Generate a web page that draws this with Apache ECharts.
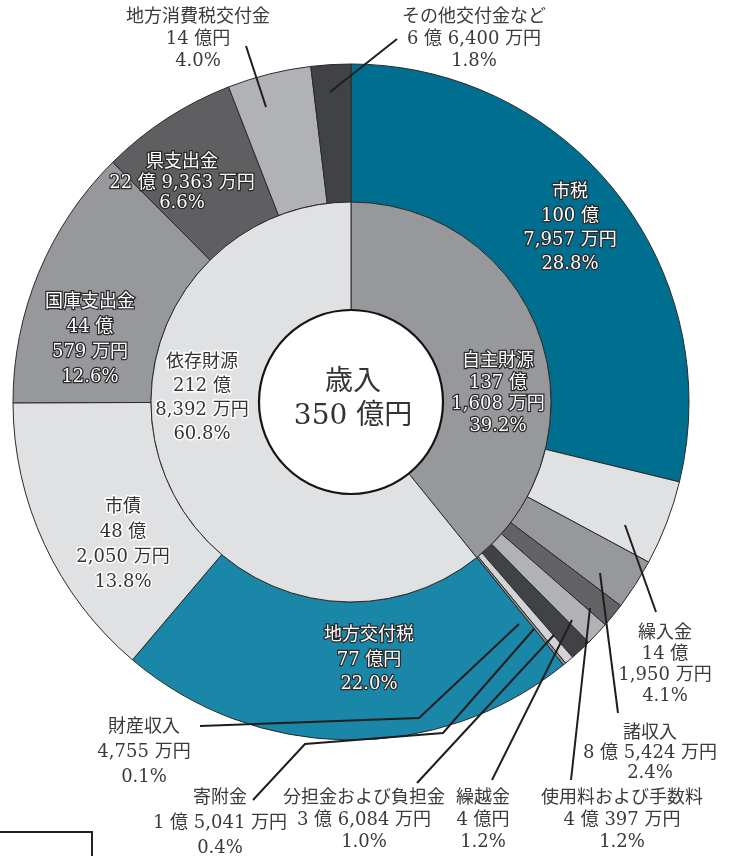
<!DOCTYPE html>
<html>
<head>
<meta charset="utf-8">
<title>歳入 350億円</title>
<script src="https://cdn.jsdelivr.net/npm/echarts/dist/echarts.min.js"></script>
<style>
    html, body { margin: 0; padding: 0; background: #fff; }
    #myChart { width: 732px; height: 856px; }
</style>
</head>
<body>
<div id="myChart"></div>
<script>
    /////////////////////////  データ（単位：億円）

    var ownNames   = ['市税', '繰入金', '諸収入', '使用料および手数料', '繰越金', '分担金および負担金', '寄附金', '財産収入'];
    var ownValues  = [100.7957, 14.1950, 8.5424, 4.0397, 4.0000, 3.6084, 1.5041, 0.4755];
    var ownAmounts = [['100 億', '7,957 万円'], ['14 億', '1,950 万円'], ['8 億 5,424 万円'], ['4 億 397 万円'],
                      ['4 億円'], ['3 億 6,084 万円'], ['1 億 5,041 万円'], ['4,755 万円']];
    var ownShares  = ['28.8%', '4.1%', '2.4%', '1.2%', '1.2%', '1.0%', '0.4%', '0.1%'];

    var depNames   = ['地方交付税', '市債', '国庫支出金', '県支出金', '地方消費税交付金', 'その他交付金など'];
    var depValues  = [77.0000, 48.2050, 44.0579, 22.9363, 14.0000, 6.6400];
    var depAmounts = [['77 億円'], ['48 億', '2,050 万円'], ['44 億', '579 万円'], ['22 億 9,363 万円'], ['14 億円'], ['6 億 6,400 万円']];
    var depShares  = ['22.0%', '13.8%', '12.6%', '6.6%', '4.0%', '1.8%'];

    var groupNames   = ['自主財源', '依存財源'];
    var groupValues  = [137.1608, 212.8392];
    var groupAmounts = [['137 億', '1,608 万円'], ['212 億', '8,392 万円']];
    var groupShares  = ['39.2%', '60.8%'];

    var totalName  = '歳入';
    var totalValue = 350;
    var totalText  = '350 億円';

    /////////////////////////  見た目

    var FONT = '"DejaVu Serif", "Noto Sans CJK JP", serif';
    var CENTER = [351, 402];

    var ownColors = ['#006e8e', '#e0e1e3', '#97989c', '#636366', '#b1b2b5', '#414245', '#d2d3d5', '#8c8d90'];
    var depColors = ['#1b87a8', '#e0e1e3', '#97989c', '#5f5f62', '#b1b2b5', '#414245'];
    var groupColors = ['#97989c', '#e0e1e3'];

    // dark: 白文字+黒縁, light: 黒文字+白縁, plain: 外側ラベル
    var ownKinds = ['dark', 'plain', 'plain', 'plain', 'plain', 'plain', 'plain', 'plain'];
    var depKinds = ['dark', 'light', 'dark', 'dark', 'plain', 'plain'];
    var groupKinds = ['dark', 'light'];

    var ownLineH = [24, 21, 20, 22, 22, 22, 25, 25];
    var depLineH = [24.5, 25, 25, 20.5, 22, 22];
    var groupLineH = [21.5, 24];

    var ownPos = [[570, 228], [665, 665], [650, 753], [622, 820], [483, 820], [364, 820], [220, 823], [144, 752]];
    var depPos = [[369, 660], [123, 545], [90, 340], [182, 183], [198, 39], [474, 39]];
    var groupPos = [[498, 394], [202, 398]];

    // 引き出し線（扇形の上に重ねて描く）
    var leaders = [
        [[625, 525], [656, 612]],
        [[600, 573], [618, 713]],
        [[590, 608], [571, 780]],
        [[572, 620], [492, 780]],
        [[554, 635], [417, 783]],
        [[534, 629], [443, 733], [305, 744], [253, 800]],
        [[519, 624], [419, 718], [200, 726]],
        [[266, 107], [246, 46]],
        [[330, 92], [397, 39]]
    ];

    /////////////////////////

    var myChart = echarts.init(document.getElementById('myChart'), null, {renderer: 'canvas'});
    myChart.setOption(makeOptions());

    function labelStyle(kind) {
        if (kind === 'dark') {
            return {color: '#ffffff', textBorderColor: '#2a2a2a', textBorderWidth: 2.5};
        } else if (kind === 'light') {
            return {color: '#333333', textBorderColor: '#ffffff', textBorderWidth: 3};
        }
        return {color: '#3a3a3a', textBorderWidth: 0};
    }

    function makeItems(names, values, amounts, shares, colors, kinds, lineH) {
        return names.map(function (name, i) {
            var text = [name].concat(amounts[i], [shares[i]]).join('\n');
            var label = labelStyle(kinds[i]);
            label.position = 'inside';
            label.formatter = text;
            label.lineHeight = lineH[i];
            return {
                name: name,
                value: values[i],
                itemStyle: {color: colors[i]},
                label: label,
                labelLine: {show: false}
            };
        });
    }

    function layoutFor(pos) {
        return function (params) {
            var p = pos[params.dataIndex];
            return {x: p[0], y: p[1], align: 'center', verticalAlign: 'middle'};
        };
    }

    function makeLeaders() {
        return leaders.map(function (pts) {
            return {
                type: 'polyline',
                z: 100,
                silent: true,
                shape: {points: pts},
                style: {fill: null, stroke: '#1e1e1e', lineWidth: 2}
            };
        });
    }

    function makeOptions() {
        var outerData = makeItems(ownNames, ownValues, ownAmounts, ownShares, ownColors, ownKinds, ownLineH)
            .concat(makeItems(depNames, depValues, depAmounts, depShares, depColors, depKinds, depLineH));
        var innerData = makeItems(groupNames, groupValues, groupAmounts, groupShares, groupColors, groupKinds, groupLineH);

        var baseLabel = {fontFamily: FONT, fontSize: 18};

        var option = {
            backgroundColor: '#ffffff',
            animation: false,
            textStyle: {fontFamily: FONT},
            graphic: [{
                type: 'rect',
                shape: {x: -5, y: 832, width: 97, height: 40},
                style: {fill: 'none', stroke: '#222222', lineWidth: 2}
            }].concat(makeLeaders()),
            series: [
                {
                    name: 'outer',
                    type: 'pie',
                    center: CENTER,
                    radius: [200, 338],
                    startAngle: 90,
                    clockwise: true,
                    avoidLabelOverlap: false,
                    silent: true,
                    itemStyle: {borderColor: '#2a2a2a', borderWidth: 1},
                    label: baseLabel,
                    labelLayout: layoutFor(ownPos.concat(depPos)),
                    data: outerData
                },
                {
                    name: 'inner',
                    type: 'pie',
                    center: CENTER,
                    radius: [92, 200],
                    startAngle: 90,
                    clockwise: true,
                    avoidLabelOverlap: false,
                    silent: true,
                    itemStyle: {borderColor: '#2a2a2a', borderWidth: 1},
                    label: baseLabel,
                    labelLayout: layoutFor(groupPos),
                    data: innerData
                },
                {
                    name: 'total',
                    type: 'pie',
                    center: CENTER,
                    radius: [0, 92],
                    silent: true,
                    itemStyle: {color: '#ffffff', borderColor: '#151515', borderWidth: 2.2},
                    label: {
                        position: 'center',
                        formatter: totalName + '\n' + totalText,
                        fontFamily: FONT,
                        fontSize: 28,
                        lineHeight: 34,
                        color: '#333333'
                    },
                    labelLine: {show: false},
                    labelLayout: layoutFor([[353, 400]]),
                    data: [{name: totalName, value: totalValue}]
                }
            ]
        };

        return option;
    }
</script>
</body>
</html>
